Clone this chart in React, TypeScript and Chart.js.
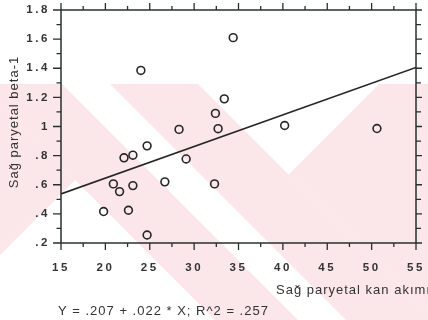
import { useEffect, useRef } from 'react';
import { Chart, registerables } from 'chart.js';

Chart.register(...registerables);

// ---- data ----
const bloodFlow = [34.4, 24.0, 33.4, 32.4, 32.7, 28.3, 24.7, 22.1, 23.1, 29.1, 26.7, 20.9, 21.6, 23.1, 32.3, 19.8, 22.6, 24.7, 40.2, 50.6];
const betaValues = [1.61, 1.385, 1.19, 1.09, 0.985, 0.98, 0.867, 0.785, 0.803, 0.777, 0.62, 0.606, 0.553, 0.594, 0.606, 0.416, 0.425, 0.255, 1.007, 0.986];
const fitX = [15, 55];
const fitY = [0.537, 1.405];

const xTickLabels = ['15', '20', '25', '30', '35', '40', '45', '50', '55'];
const yTickLabels = ['.2', '.4', '.6', '.8', '1', '1.2', '1.4', '1.6', '1.8'];
const xAxisTitle = 'Sağ paryetal kan akımı';
const yAxisTitle = 'Sağ paryetal beta-1';
const equationText = 'Y = .207 + .022 * X; R^2 = .257';

const X_MIN = 15, X_MAX = 55, X_STEP = 5, X_MINOR = 2.5;
const Y_MIN = 0.2, Y_MAX = 1.8, Y_STEP = 0.2, Y_MINOR = 0.1;

const FONT = '"Liberation Sans", Arial, Helvetica, sans-serif';
const INK = '#262626';
const TEXT = '#333333';
const PINK = '#fbe6ea';
const TICK_SPACING = '2.6px';

// background watermark (decoration only, not data)
const decor = {
  id: 'decor',
  beforeLayout(chart: any) {
    chart.ctx.letterSpacing = TICK_SPACING;
  },
  beforeDraw(chart: any) {
    const ctx = chart.ctx;
    const W = chart.width, H = chart.height;
    const top = 84;
    ctx.save();
    ctx.beginPath();
    ctx.rect(0, top, W, H - top);
    ctx.clip();
    ctx.fillStyle = PINK;
    const poly = (pts: number[][]) => {
      ctx.beginPath();
      pts.forEach(([x, y], i) => (i ? ctx.lineTo(x, y) : ctx.moveTo(x, y)));
      ctx.closePath();
      ctx.fill();
    };
    const band = (a: number, b: number) =>
      poly([[a + top, top], [b + top, top], [b + H, H], [a + H, H]]);
    band(-105, -22);
    band(26, 114);
    poly([[-400, top], [top - 105, top], [75, 180], [-400, 655]]);
    poly([[379, top], [W + 400, top], [W + 400, H], [114 + H, H], [288.5, 174.5]]);
    ctx.restore();
    ctx.letterSpacing = TICK_SPACING;
  },
  afterDraw(chart: any) {
    const { ctx, chartArea: a, scales } = chart;
    const xs = scales.x, ys = scales.y;
    ctx.save();
    ctx.letterSpacing = '0px';
    ctx.strokeStyle = '#27302d';
    ctx.lineWidth = 1.5;
    ctx.strokeRect(a.left, a.top, a.right - a.left, a.bottom - a.top);
    ctx.lineWidth = 1.3;
    ctx.beginPath();
    const nx = Math.round((X_MAX - X_MIN) / X_MINOR);
    for (let i = 0; i <= nx; i++) {
      const v = X_MIN + i * X_MINOR;
      const px = xs.getPixelForValue(v);
      const major = Math.abs(v / X_STEP - Math.round(v / X_STEP)) < 1e-6;
      const len = major ? 7 : 4;
      ctx.moveTo(px, a.bottom);
      ctx.lineTo(px, a.bottom + len);
      ctx.moveTo(px, a.top);
      ctx.lineTo(px, a.top - len);
    }
    const ny = Math.round((Y_MAX - Y_MIN) / Y_MINOR);
    const ratio = Math.round(Y_STEP / Y_MINOR);
    for (let i = 0; i <= ny; i++) {
      const v = Y_MIN + i * Y_MINOR;
      const py = ys.getPixelForValue(v);
      const major = i % ratio === 0;
      const len = major ? 8 : 4.5;
      ctx.moveTo(a.left, py);
      ctx.lineTo(a.left - len, py);
      ctx.moveTo(a.right, py);
      ctx.lineTo(a.right + (major ? 6 : 5), py);
    }
    ctx.stroke();

    ctx.fillStyle = TEXT;
    ctx.font = `13px ${FONT}`;
    ctx.letterSpacing = '1px';
    ctx.textAlign = 'left';
    ctx.textBaseline = 'alphabetic';
    ctx.fillText(xAxisTitle, 276, 294);
    ctx.fillText(equationText, 58, 315);
    ctx.save();
    ctx.translate(17.5, 122);
    ctx.rotate(-Math.PI / 2);
    ctx.textAlign = 'center';
    ctx.fillText(yAxisTitle, 0, 0);
    ctx.restore();
    ctx.restore();
  },
};

export default function App() {
  const ref = useRef<HTMLCanvasElement | null>(null);
  useEffect(() => {
    if (!ref.current) return;
    const points = bloodFlow.map((x, i) => ({ x, y: betaValues[i] }));
    const fit = fitX.map((x, i) => ({ x, y: fitY[i] }));
    const chart = new Chart(ref.current, {
      type: 'scatter',
      data: {
        datasets: [
          {
            type: 'line',
            data: fit,
            borderColor: INK,
            borderWidth: 1.6,
            pointRadius: 0,
            showLine: true,
            fill: false,
          } as any,
          {
            data: points,
            pointStyle: 'circle',
            pointRadius: 3.9,
            borderWidth: 1.6,
            borderColor: INK,
            backgroundColor: 'rgba(0,0,0,0)',
          },
        ],
      },
      options: {
        animation: false,
        responsive: true,
        maintainAspectRatio: false,
        events: [],
        layout: { padding: { top: 10, right: 12, left: 0, bottom: 0 } },
        plugins: { legend: { display: false }, tooltip: { enabled: false } },
        scales: {
          x: {
            type: 'linear',
            position: 'bottom',
            min: X_MIN,
            max: X_MAX,
            grid: { display: false, drawTicks: false },
            border: { display: false },
            ticks: {
              stepSize: X_STEP,
              autoSkip: false,
              maxRotation: 0,
              padding: 18,
              color: TEXT,
              font: { family: FONT, size: 11.5, weight: 'bold' },
              callback: (_v: any, i: number) => xTickLabels[i] ?? '',
            },
            afterFit: (s: any) => {
              s.height = 77;
              s.paddingLeft = 0;
              s.paddingRight = 0;
            },
          },
          y: {
            type: 'linear',
            min: Y_MIN,
            max: Y_MAX,
            grid: { display: false, drawTicks: false },
            border: { display: false },
            ticks: {
              stepSize: Y_STEP,
              autoSkip: false,
              padding: 11,
              color: TEXT,
              font: { family: FONT, size: 11.5, weight: 'bold' },
              callback: (_v: any, i: number) => yTickLabels[i] ?? '',
            },
            afterFit: (s: any) => {
              s.width = 61;
              s.paddingTop = 0;
              s.paddingBottom = 0;
            },
          },
        },
      },
      plugins: [decor],
    });
    return () => chart.destroy();
  }, []);
  return (
    <div style={{ position: 'absolute', left: 0, top: 0, width: 428, height: 320 }}>
      <canvas ref={ref} />
    </div>
  );
}
